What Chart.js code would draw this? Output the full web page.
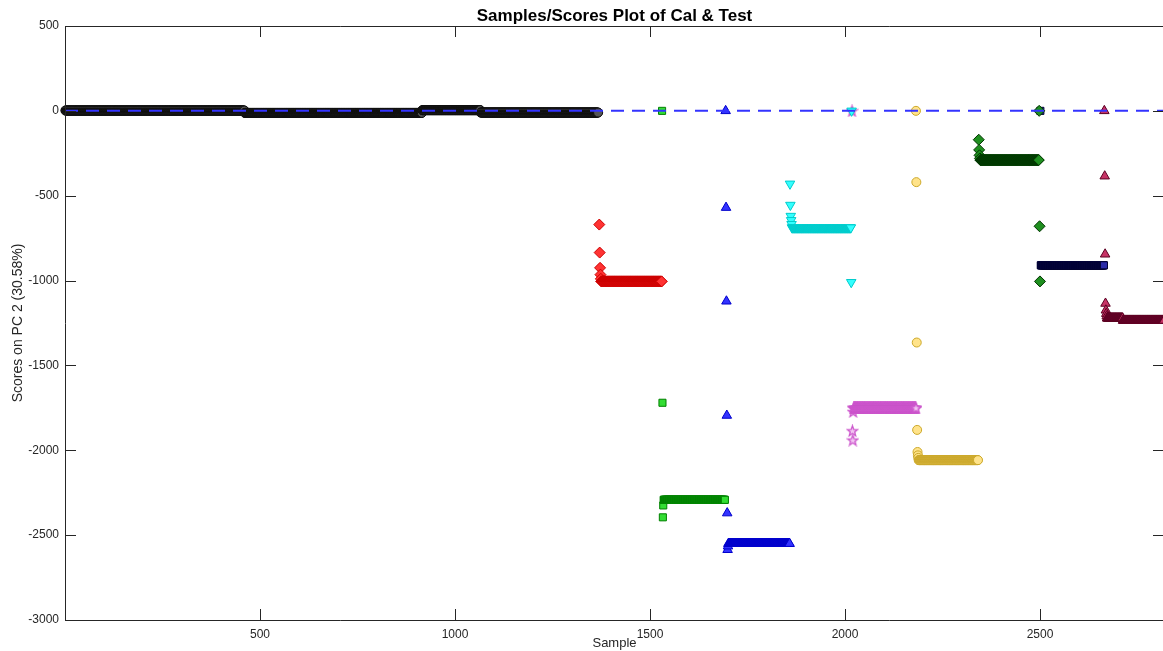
<!DOCTYPE html>
<html>
<head>
<meta charset="utf-8">
<script src="https://cdn.jsdelivr.net/npm/chart.js@4.4.1/dist/chart.umd.min.js"></script>
<style>
  html, body { margin: 0; padding: 0; background: #fff; overflow: hidden; }
  #wrap { width: 1171px; height: 651px; }
</style>
</head>
<body>
<div id="wrap"><canvas id="scores" width="1171" height="651"></canvas></div>
<script>
// axis ticks
var xTicks = [500, 1000, 1500, 2000, 2500];
var yTicks = [500, 0, -500, -1000, -1500, -2000, -2500, -3000];
var xMax = 2818;

// each class: first sample number, then runs of [count, score]
var blackStart = 1;
var blackRuns = [[460, 2], [455, -12], [150, 4], [302, -10]];

var redStart = 1370;
var redRuns = [[1, -670], [1, -835], [1, -925], [1, -965], [1, -990], [156, -1005]];

var greenStart = 1531;
var greenRuns = [[1, 0], [1, -1720], [1, -2395], [1, -2325], [158, -2292]];

var blueStart = 1694;
var blueRuns = [[1, 0], [1, -570], [1, -1122], [1, -1795], [1, -2370], [1, -2586], [1, -2565], [158, -2550]];

var cyanStart = 1859;
var cyanRuns = [[1, -430], [1, -555], [1, -620], [1, -645], [1, -668], [152, -688], [1, -1010], [1, 0]];

var magentaStart = 2018;
var magentaRuns = [[1, 0], [1, -1885], [1, -1940], [1, -1772], [161, -1750]];

var yellowStart = 2182;
var yellowRuns = [[1, 0], [1, -420], [1, -1365], [1, -1880], [1, -2010], [1, -2030], [1, -2045], [153, -2058]];

var dkGreenStart = 2343;
var dkGreenRuns = [[1, -170], [1, -230], [1, -262], [1, -280], [151, -290], [1, 0], [1, -680], [1, -1005]];

var navyStart = 2501;
var navyRuns = [[1, 0], [163, -910]];

var dkRedStart = 2665;
var dkRedRuns = [[1, 0], [1, -385], [1, -845], [1, -1135], [1, -1175], [1, -1195], [1, -1210], [41, -1222], [108, -1235]];

function expand(start, runs) {
  var pts = [];
  var x = start;
  runs.forEach(function (r) {
    for (var i = 0; i < r[0]; i++) {
      pts.push({ x: x, y: r[1] });
      x++;
    }
  });
  return pts;
}

// pentagram marker (Chart.js has no 5-point star)
function pentagram(size, stroke, fill) {
  var c = document.createElement('canvas');
  c.width = size; c.height = size;
  var g = c.getContext('2d');
  var cx = size / 2, cy = size / 2 + 0.5, ro = size / 2 - 1, ri = ro * 0.42;
  g.beginPath();
  for (var i = 0; i < 10; i++) {
    var r = i % 2 ? ri : ro;
    var a = -Math.PI / 2 + i * Math.PI / 5;
    var px = cx + r * Math.cos(a), py = cy + r * Math.sin(a);
    if (i === 0) g.moveTo(px, py); else g.lineTo(px, py);
  }
  g.closePath();
  g.fillStyle = fill;
  g.fill();
  g.strokeStyle = stroke;
  g.lineWidth = 1.3;
  g.stroke();
  return c;
}

function group(label, start, runs, style, fill, edge, radius, rotation) {
  return {
    type: 'scatter',
    label: label,
    data: expand(start, runs),
    pointStyle: style,
    pointRotation: rotation || 0,
    pointRadius: radius,
    backgroundColor: fill,
    borderColor: edge,
    borderWidth: 1,
    clip: false,
    order: 1
  };
}

var boxPlugin = {
  id: 'box',
  afterDatasetsDraw: function (chart) {
    var ctx = chart.ctx, a = chart.chartArea;
    var xs = chart.scales.x, ys = chart.scales.y;
    var tl = 11;
    ctx.save();
    ctx.strokeStyle = '#262626';
    ctx.lineWidth = 1;
    ctx.beginPath();
    ctx.rect(Math.round(a.left) + 0.5, Math.round(a.top) + 0.5, Math.round(a.right - a.left), Math.round(a.bottom - a.top));
    xTicks.forEach(function (v) {
      var px = Math.round(xs.getPixelForValue(v)) + 0.5;
      ctx.moveTo(px, a.bottom); ctx.lineTo(px, a.bottom - tl);
      ctx.moveTo(px, a.top); ctx.lineTo(px, a.top + tl);
    });
    yTicks.forEach(function (v) {
      var py = Math.round(ys.getPixelForValue(v)) + 0.5;
      ctx.moveTo(a.left, py); ctx.lineTo(a.left + tl, py);
      ctx.moveTo(a.right, py); ctx.lineTo(a.right - tl, py);
    });
    ctx.stroke();
    ctx.restore();
  }
};

var zeroLine = {
  type: 'line',
  label: 'zero',
  data: [{ x: 0, y: 0 }, { x: xMax, y: 0 }],
  borderColor: '#3333ff',
  borderWidth: 2,
  borderDash: [13, 8],
  pointRadius: 0,
  fill: false,
  order: 0
};

var starImg = pentagram(13, '#cc55cc', '#f2c4f2');

new Chart(document.getElementById('scores'), {
  type: 'scatter',
  data: {
    datasets: [
      zeroLine,
      group('black', blackStart, blackRuns, 'circle', '#555555', '#0d0d0d', 4.5),
      group('red', redStart, redRuns, 'rectRot', '#ff3333', '#cc0000', 5.5),
      group('green', greenStart, greenRuns, 'rect', '#33dd33', '#008000', 5),
      group('blue', blueStart, blueRuns, 'triangle', '#3333ff', '#0000cc', 5.5),
      group('cyan', cyanStart, cyanRuns, 'triangle', '#33ffff', '#00cccc', 5.5, 180),
      group('magenta', magentaStart, magentaRuns, starImg, '#f2c4f2', '#cc55cc', 6),
      group('yellow', yellowStart, yellowRuns, 'circle', '#ffe38a', '#cca829', 4.5),
      group('dkgreen', dkGreenStart, dkGreenRuns, 'rectRot', '#1f8f1f', '#003300', 5.5),
      group('navy', navyStart, navyRuns, 'rect', '#2a2aa8', '#000033', 5),
      group('dkred', dkRedStart, dkRedRuns, 'triangle', '#c73366', '#5c0022', 5.5)
    ]
  },
  options: {
    responsive: false,
    animation: false,
    devicePixelRatio: 1,
    events: [],
    layout: { padding: { left: 0, right: 2, top: 0, bottom: 0 } },
    plugins: {
      legend: { display: false },
      tooltip: { enabled: false },
      title: {
        display: true,
        fullSize: false,
        text: 'Samples/Scores Plot of Cal & Test',
        color: '#000',
        font: { family: 'Liberation Sans', size: 17, weight: 'bold', lineHeight: 1.1 },
        padding: { top: 7, bottom: 0.3 }
      }
    },
    scales: {
      x: {
        type: 'linear',
        min: 0,
        max: xMax,
        afterBuildTicks: function (s) { s.ticks = xTicks.map(function (v) { return { value: v }; }); },
        afterFit: function (s) { s.height = 31; s.paddingLeft = 0; s.paddingRight = 0; },
        grid: { display: false, drawTicks: false },
        border: { display: false },
        ticks: {
          color: '#262626', padding: 7, maxRotation: 0,
          font: { family: 'Liberation Sans', size: 12 },
          callback: function (v) { return String(v); }
        },
        title: { display: true, text: 'Sample', color: '#262626', padding: { top: 0, bottom: 0 }, font: { family: 'Liberation Sans', size: 13 } }
      },
      y: {
        type: 'linear',
        min: -3000,
        max: 500,
        afterBuildTicks: function (s) { s.ticks = yTicks.map(function (v) { return { value: v }; }); },
        afterFit: function (s) { s.width = 65; },
        grid: { display: false, drawTicks: false },
        border: { display: false },
        ticks: {
          color: '#262626', padding: 6,
          font: { family: 'Liberation Sans', size: 12 },
          callback: function (v) { return String(v); }
        },
        title: { display: true, text: 'Scores on PC 2 (30.58%)', color: '#262626', padding: { top: 10, bottom: 0 }, font: { family: 'Liberation Sans', size: 14 } }
      }
    }
  },
  plugins: [boxPlugin]
});
</script>
</body>
</html>
